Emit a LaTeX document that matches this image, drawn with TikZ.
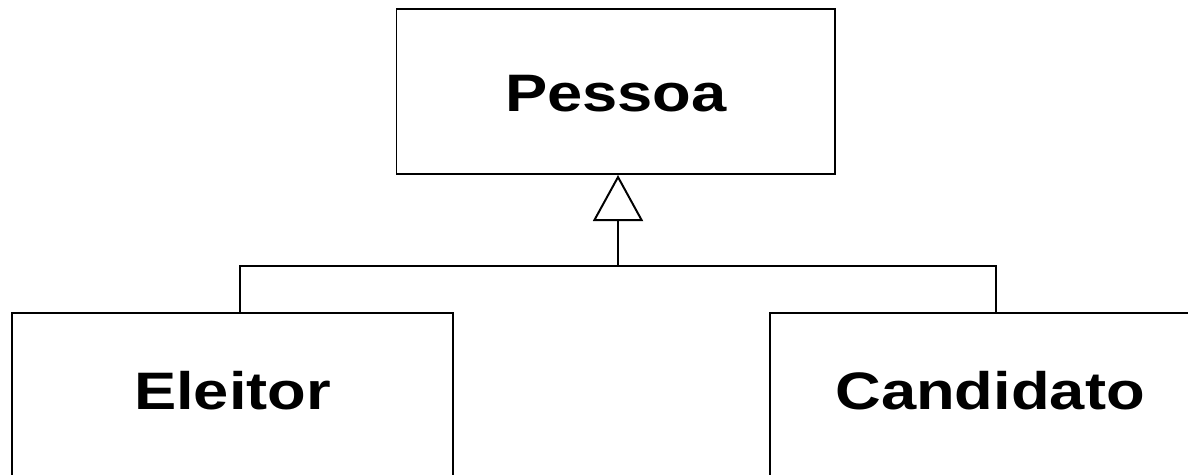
\documentclass[tikz,border=0pt]{standalone}
\usepackage{fontspec}
\setmainfont{Liberation Sans}
\usepackage{tikz}
\usetikzlibrary{positioning,arrows.meta}
\newcommand{\clsname}[1]{\scalebox{1.2}[1]{#1}}

\begin{document}
\begin{tikzpicture}[x=0.025cm, y=-0.025cm, line width=1.4pt,
  cls/.style={draw, rectangle, inner sep=0pt, minimum width=11cm},
  lbl/.style={font=\fontsize{37.5}{40}\selectfont\bfseries, inner sep=0pt},
  inherit/.style={-{Triangle[open, length=1.15cm, width=1.25cm, line width=1.4pt]}}]
\clip (0,0) rectangle (1188,474);
% classes
\node[cls, minimum width=10.96cm, minimum height=4.125cm] (pessoa) at (615.75,91.5) {};
\node[lbl] (pessoatxt) at (616,94) {\clsname{Pessoa}};
\node[cls, minimum height=5cm, anchor=north] (eleitor) at (232.5,312) {};
\node[lbl, below=1.45cm of eleitor.north] (eleitortxt) {\clsname{Eleitor}};
\node[cls, minimum height=5cm, anchor=north west] (candidato) at (769,312) {};
\node[lbl, below=1.45cm of candidato.north] (candidatotxt) {\clsname{Candidato}};
% generalization
\coordinate (hub) at (618,266);
\draw (hub) -| ([xshift=0.19cm]eleitor.north);
\draw (hub) -| ([xshift=0.16cm]candidato.north);
\draw[inherit] (hub) -- (pessoa.south -| hub);
\end{tikzpicture}
\end{document}
